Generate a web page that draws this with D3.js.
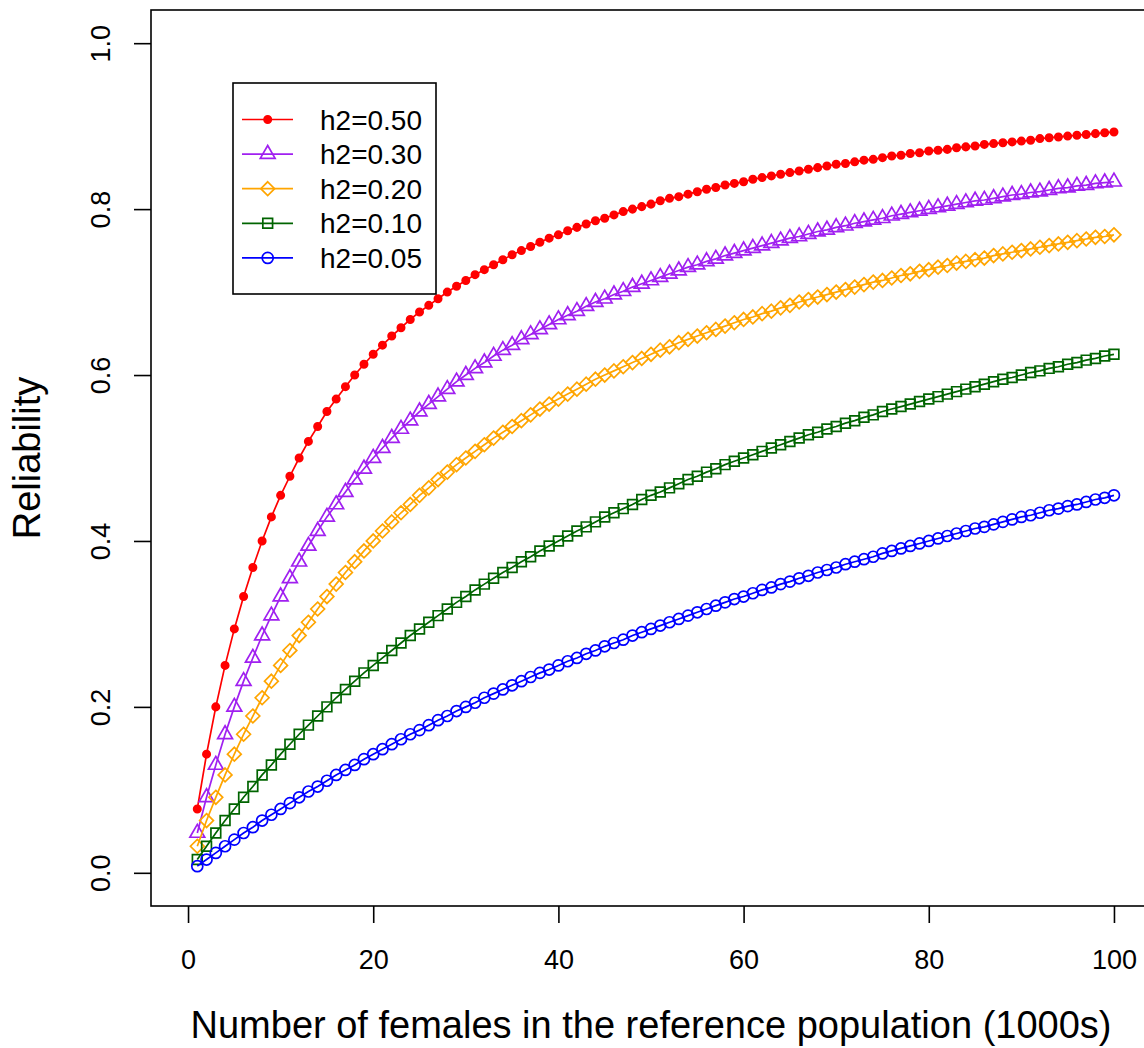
<!DOCTYPE html>
<html>
<head>
<meta charset="utf-8">
<script src="https://cdn.jsdelivr.net/npm/d3@7"></script>
<style>
  body { margin: 0; background: #fff; }
  text { font-family: "Liberation Sans", Arial, sans-serif; fill: #000; }
</style>
</head>
<body>
<svg id="chart" width="1144" height="1048"></svg>
<script>
// x: number of females in the reference population (1000s)
const females = [
  1, 2, 3, 4, 5, 6, 7, 8, 9, 10, 11, 12, 13, 14, 15, 16, 17, 18, 19, 20,
  21, 22, 23, 24, 25, 26, 27, 28, 29, 30, 31, 32, 33, 34, 35, 36, 37, 38, 39, 40,
  41, 42, 43, 44, 45, 46, 47, 48, 49, 50, 51, 52, 53, 54, 55, 56, 57, 58, 59, 60,
  61, 62, 63, 64, 65, 66, 67, 68, 69, 70, 71, 72, 73, 74, 75, 76, 77, 78, 79, 80,
  81, 82, 83, 84, 85, 86, 87, 88, 89, 90, 91, 92, 93, 94, 95, 96, 97, 98, 99, 100
];

// reliability values
const h050 = [
  0.077, 0.143, 0.200, 0.250, 0.294, 0.333, 0.368, 0.400, 0.429, 0.455,
  0.478, 0.500, 0.520, 0.538, 0.556, 0.571, 0.586, 0.600, 0.613, 0.625,
  0.636, 0.647, 0.657, 0.667, 0.676, 0.684, 0.692, 0.700, 0.707, 0.714,
  0.721, 0.727, 0.733, 0.739, 0.745, 0.750, 0.755, 0.760, 0.765, 0.769,
  0.774, 0.778, 0.782, 0.786, 0.789, 0.793, 0.797, 0.800, 0.803, 0.806,
  0.810, 0.813, 0.815, 0.818, 0.821, 0.824, 0.826, 0.829, 0.831, 0.833,
  0.836, 0.838, 0.840, 0.842, 0.844, 0.846, 0.848, 0.850, 0.852, 0.854,
  0.855, 0.857, 0.859, 0.860, 0.862, 0.864, 0.865, 0.867, 0.868, 0.870,
  0.871, 0.872, 0.874, 0.875, 0.876, 0.878, 0.879, 0.880, 0.881, 0.882,
  0.883, 0.885, 0.886, 0.887, 0.888, 0.889, 0.890, 0.891, 0.892, 0.893
];
const h030 = [
  0.048, 0.091, 0.130, 0.167, 0.200, 0.231, 0.259, 0.286, 0.310, 0.333,
  0.355, 0.375, 0.394, 0.412, 0.429, 0.444, 0.459, 0.474, 0.487, 0.500,
  0.512, 0.524, 0.535, 0.545, 0.556, 0.565, 0.574, 0.583, 0.592, 0.600,
  0.608, 0.615, 0.623, 0.630, 0.636, 0.643, 0.649, 0.655, 0.661, 0.667,
  0.672, 0.677, 0.683, 0.688, 0.692, 0.697, 0.701, 0.706, 0.710, 0.714,
  0.718, 0.722, 0.726, 0.730, 0.733, 0.737, 0.740, 0.744, 0.747, 0.750,
  0.753, 0.756, 0.759, 0.762, 0.765, 0.767, 0.770, 0.773, 0.775, 0.778,
  0.780, 0.783, 0.785, 0.787, 0.789, 0.792, 0.794, 0.796, 0.798, 0.800,
  0.802, 0.804, 0.806, 0.808, 0.810, 0.811, 0.813, 0.815, 0.817, 0.818,
  0.820, 0.821, 0.823, 0.825, 0.826, 0.828, 0.829, 0.831, 0.832, 0.833
];
const h020 = [
  0.032, 0.063, 0.091, 0.118, 0.143, 0.167, 0.189, 0.211, 0.231, 0.250,
  0.268, 0.286, 0.302, 0.318, 0.333, 0.348, 0.362, 0.375, 0.388, 0.400,
  0.412, 0.423, 0.434, 0.444, 0.455, 0.464, 0.474, 0.483, 0.492, 0.500,
  0.508, 0.516, 0.524, 0.531, 0.538, 0.545, 0.552, 0.559, 0.565, 0.571,
  0.577, 0.583, 0.589, 0.595, 0.600, 0.605, 0.610, 0.615, 0.620, 0.625,
  0.630, 0.634, 0.639, 0.643, 0.647, 0.651, 0.655, 0.659, 0.663, 0.667,
  0.670, 0.674, 0.677, 0.681, 0.684, 0.688, 0.691, 0.694, 0.697, 0.700,
  0.703, 0.706, 0.709, 0.712, 0.714, 0.717, 0.720, 0.722, 0.725, 0.727,
  0.730, 0.732, 0.735, 0.737, 0.739, 0.741, 0.744, 0.746, 0.748, 0.750,
  0.752, 0.754, 0.756, 0.758, 0.760, 0.762, 0.764, 0.766, 0.767, 0.769
];
const h010 = [
  0.016, 0.032, 0.048, 0.063, 0.077, 0.091, 0.104, 0.118, 0.130, 0.143,
  0.155, 0.167, 0.178, 0.189, 0.200, 0.211, 0.221, 0.231, 0.241, 0.250,
  0.259, 0.268, 0.277, 0.286, 0.294, 0.302, 0.310, 0.318, 0.326, 0.333,
  0.341, 0.348, 0.355, 0.362, 0.368, 0.375, 0.381, 0.388, 0.394, 0.400,
  0.406, 0.412, 0.417, 0.423, 0.429, 0.434, 0.439, 0.444, 0.450, 0.455,
  0.459, 0.464, 0.469, 0.474, 0.478, 0.483, 0.487, 0.492, 0.496, 0.500,
  0.504, 0.508, 0.512, 0.516, 0.520, 0.524, 0.528, 0.531, 0.535, 0.538,
  0.542, 0.545, 0.549, 0.552, 0.556, 0.559, 0.562, 0.565, 0.568, 0.571,
  0.574, 0.577, 0.580, 0.583, 0.586, 0.589, 0.592, 0.595, 0.597, 0.600,
  0.603, 0.605, 0.608, 0.610, 0.613, 0.615, 0.618, 0.620, 0.623, 0.625
];
const h005 = [
  0.008, 0.016, 0.024, 0.032, 0.040, 0.048, 0.055, 0.063, 0.070, 0.077,
  0.084, 0.091, 0.098, 0.104, 0.111, 0.118, 0.124, 0.130, 0.137, 0.143,
  0.149, 0.155, 0.161, 0.167, 0.172, 0.178, 0.184, 0.189, 0.195, 0.200,
  0.205, 0.211, 0.216, 0.221, 0.226, 0.231, 0.236, 0.241, 0.245, 0.250,
  0.255, 0.259, 0.264, 0.268, 0.273, 0.277, 0.281, 0.286, 0.290, 0.294,
  0.298, 0.302, 0.306, 0.310, 0.314, 0.318, 0.322, 0.326, 0.330, 0.333,
  0.337, 0.341, 0.344, 0.348, 0.351, 0.355, 0.358, 0.362, 0.365, 0.368,
  0.372, 0.375, 0.378, 0.381, 0.385, 0.388, 0.391, 0.394, 0.397, 0.400,
  0.403, 0.406, 0.409, 0.412, 0.415, 0.417, 0.420, 0.423, 0.426, 0.429,
  0.431, 0.434, 0.437, 0.439, 0.442, 0.444, 0.447, 0.450, 0.452, 0.455
];

const seriesLabels = ['h2=0.50', 'h2=0.30', 'h2=0.20', 'h2=0.10', 'h2=0.05'];
const xTicks = [0, 20, 40, 60, 80, 100];
const yTicks = [0, 0.2, 0.4, 0.6, 0.8, 1.0];

const colors = ['#FF0000', '#A020F0', '#FFA500', '#006400', '#0000FF'];
const shapes = ['dot', 'triangle', 'diamond', 'square', 'circle'];
const allValues = [h050, h030, h020, h010, h005];

const series = seriesLabels.map((label, i) => ({
  label: label,
  values: allValues[i],
  color: colors[i],
  shape: shapes[i],
}));

const svg = d3.select('#chart');
svg.append('rect').attr('width', 1144).attr('height', 1048).attr('fill', '#fff');

const x = d3.scaleLinear().domain([-4, 104]).range([151, 1151]);
const y = d3.scaleLinear().domain([-0.04, 1.04]).range([906, 10]);

const markerR = 5.5;
const lineWidth = 1.7;

// R style plotting symbols
const markerPath = (shape, r) => {
  if (shape === 'circle' || shape === 'dot') {
    const rr = shape === 'dot' ? (r * 2) / 3 : r;
    return `M${-rr},0A${rr},${rr} 0 1,0 ${rr},0A${rr},${rr} 0 1,0 ${-rr},0Z`;
  }
  if (shape === 'square') {
    const s = r * 0.8862;
    return `M${-s},${-s}H${s}V${s}H${-s}Z`;
  }
  if (shape === 'triangle') {
    const top = r * 1.5551;
    const half = r * 1.3468;
    const base = r * 0.7776;
    return `M0,${-top}L${half},${base}L${-half},${base}Z`;
  }
  if (shape === 'diamond') {
    const d = r * 1.2533;
    return `M0,${-d}L${d},0L0,${d}L${-d},0Z`;
  }
  return '';
};

const drawMarker = (g, shape, color, px, py) => {
  g.append('path')
    .attr('d', markerPath(shape, markerR))
    .attr('transform', `translate(${px},${py})`)
    .attr('fill', shape === 'dot' ? color : 'none')
    .attr('stroke', color)
    .attr('stroke-width', 1.7);
};

// axes
const xAxis = svg
  .append('g')
  .attr('transform', 'translate(0,906)')
  .call(d3.axisBottom(x).tickValues(xTicks).tickSize(17).tickSizeOuter(0).tickPadding(27).tickFormat(d3.format('d')));
xAxis.select('.domain').remove();
xAxis.selectAll('line').attr('stroke', '#000').attr('stroke-width', 1.6);
xAxis.selectAll('text').attr('font-size', '27px').attr('font-family', '"Liberation Sans", Arial, sans-serif').attr('fill', '#000');

const yAxis = svg
  .append('g')
  .attr('transform', 'translate(151,0)')
  .call(d3.axisLeft(y).tickValues(yTicks).tickSize(17).tickSizeOuter(0).tickFormat(d3.format('.1f')));
yAxis.select('.domain').remove();
yAxis.selectAll('line').attr('stroke', '#000').attr('stroke-width', 1.6);
yAxis
  .selectAll('text')
  .attr('x', 0)
  .attr('dy', 0)
  .attr('text-anchor', 'middle')
  .attr('transform', 'translate(-41,0) rotate(-90)')
  .attr('font-size', '27px')
  .attr('font-family', '"Liberation Sans", Arial, sans-serif')
  .attr('fill', '#000');

// plot box
svg
  .append('rect')
  .attr('x', 151)
  .attr('y', 10)
  .attr('width', 1000)
  .attr('height', 896)
  .attr('fill', 'none')
  .attr('stroke', '#000')
  .attr('stroke-width', 1.6);

// axis titles
svg
  .append('text')
  .attr('x', 651)
  .attr('y', 1038)
  .attr('text-anchor', 'middle')
  .attr('font-size', '38px')
  .text('Number of females in the reference population (1000s)');
svg
  .append('text')
  .attr('transform', 'translate(40,458) rotate(-90)')
  .attr('text-anchor', 'middle')
  .attr('font-size', '38px')
  .text('Reliability');

// curves, line then points (type = "o")
const line = d3
  .line()
  .x((d, i) => x(females[i]))
  .y((d) => y(d));

series.forEach((s) => {
  const g = svg.append('g').attr('class', 'series');
  g.append('path')
    .attr('d', line(s.values))
    .attr('fill', 'none')
    .attr('stroke', s.color)
    .attr('stroke-width', lineWidth);
  s.values.forEach((v, i) => {
    drawMarker(g, s.shape, s.color, x(females[i]), y(v));
  });
});

// legend
const legend = svg.append('g').attr('class', 'legend');
legend
  .append('rect')
  .attr('x', 233)
  .attr('y', 83)
  .attr('width', 203)
  .attr('height', 211)
  .attr('fill', '#fff')
  .attr('stroke', '#000')
  .attr('stroke-width', 1.6);

series.forEach((s, i) => {
  const ly = 119.5 + i * 34.6;
  legend
    .append('line')
    .attr('x1', 242)
    .attr('x2', 293)
    .attr('y1', ly)
    .attr('y2', ly)
    .attr('stroke', s.color)
    .attr('stroke-width', lineWidth);
  drawMarker(legend, s.shape, s.color, 267.7, ly);
  legend
    .append('text')
    .attr('x', 320)
    .attr('y', ly + 10)
    .attr('font-size', '28px')
    .text(s.label);
});
</script>
</body>
</html>
